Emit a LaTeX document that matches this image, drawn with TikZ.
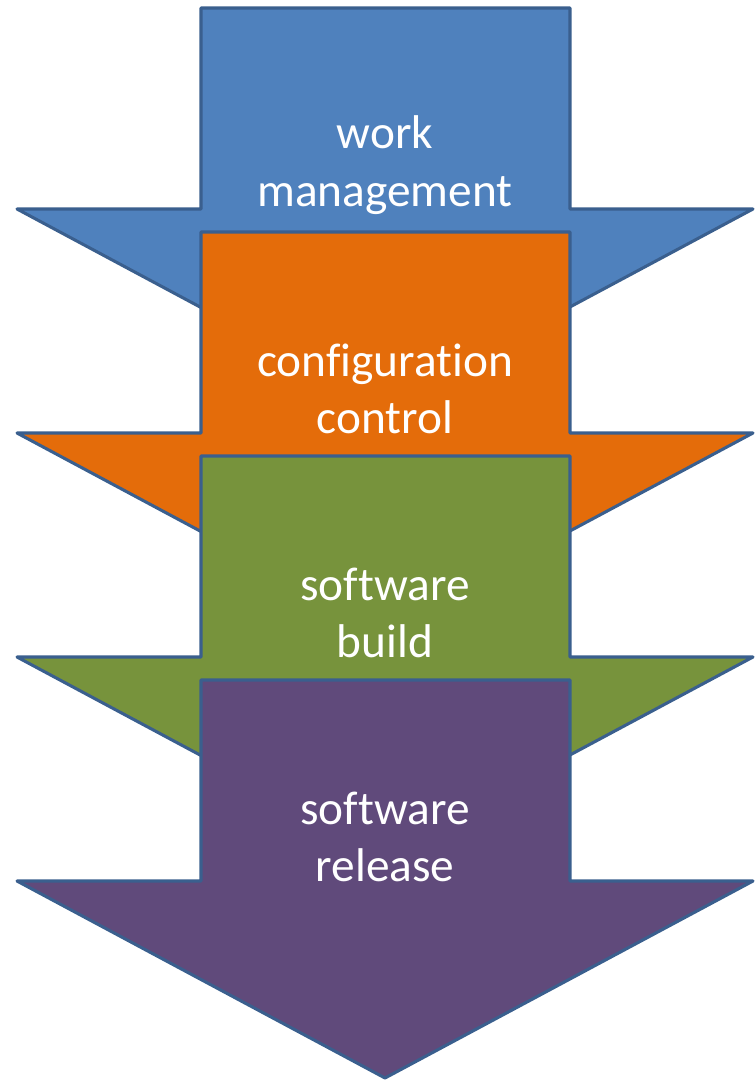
\documentclass[tikz,border=0pt]{standalone}
\usepackage{fontspec}
\setmainfont[Ligatures=NoCommon]{Carlito}
\usepackage{tikz}
\usetikzlibrary{positioning}

\definecolor{wmblue}{HTML}{4F81BD}
\definecolor{ccorange}{HTML}{E46C0A}
\definecolor{sbgreen}{HTML}{77933C}
\definecolor{srpurple}{HTML}{604A7B}
\definecolor{edgeblue}{HTML}{3A5F8E}

\begin{document}
\begin{tikzpicture}[x=0.75pt, y=-0.75pt,
        stagearrow/.style={draw=edgeblue, line width=2.3pt, line join=round},
        stagelabel/.style={text=white, align=center, inner sep=0pt,
          font=\fontsize{35.5}{43}\selectfont},
      ]
        \useasboundingbox (0,0) rectangle (755,1081);

        % stacked down arrows, later ones on top
        \foreach \i/\col/\txt in {0/wmblue/{work\\management},
                                  1/ccorange/{configuration\\control},
                                  2/sbgreen/{software\\build},
                                  3/srpurple/{software\\release}} {
          \pgfmathsetmacro{\top}{8+224*\i}
          \draw[stagearrow, fill=\col]
            (201,\top) -- (570,\top) -- (570,\top+201) -- (753,\top+201)
            -- (385,\top+398) -- (17,\top+201) -- (201,\top+201) -- cycle;
          \node[stagelabel] (label\i) at (385,\top+157) {\txt};
        }
      \end{tikzpicture}
\end{document}
